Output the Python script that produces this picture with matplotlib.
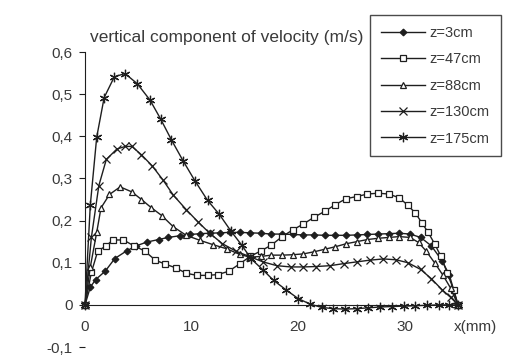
import matplotlib

matplotlib.use("Agg")

import matplotlib.pyplot as plt
from matplotlib.ticker import FuncFormatter


# values (x in mm, velocity in m/s)
x_z3 = [0, 0.5, 1.0, 1.9, 2.8, 3.9, 4.8, 5.8, 6.9, 7.8, 8.9, 9.9, 10.8, 11.7, 12.7,
        13.6, 14.5, 15.5, 16.5, 17.5, 18.5, 19.5, 20.5, 21.5, 22.5, 23.5, 24.5,
        25.5, 26.5, 27.5, 28.5, 29.5, 30.5, 31.5, 32.5, 33.5, 34.2, 35]
v_z3 = [0, 0.042, 0.06, 0.08, 0.11, 0.128, 0.14, 0.149, 0.155, 0.16, 0.164, 0.167,
        0.169, 0.17, 0.171, 0.172, 0.172, 0.171, 0.17, 0.168, 0.168, 0.167, 0.166,
        0.166, 0.165, 0.165, 0.165, 0.166, 0.167, 0.168, 0.169, 0.17, 0.168, 0.16,
        0.14, 0.105, 0.07, 0]

x_z47 = [0, 0.6, 1.2, 2.0, 2.6, 3.6, 4.6, 5.6, 6.6, 7.5, 8.5, 9.5, 10.5, 11.5, 12.5,
         13.5, 14.5, 15.5, 16.5, 17.5, 18.5, 19.5, 20.5, 21.5, 22.5, 23.5, 24.5,
         25.5, 26.5, 27.5, 28.5, 29.5, 30.3, 31.0, 31.6, 32.2, 32.8, 33.4, 34.0,
         34.6, 35]
v_z47 = [0, 0.077, 0.128, 0.14, 0.154, 0.154, 0.14, 0.128, 0.106, 0.097, 0.088, 0.075,
         0.07, 0.07, 0.072, 0.08, 0.097, 0.115, 0.128, 0.142, 0.162, 0.178, 0.192,
         0.208, 0.222, 0.238, 0.252, 0.257, 0.263, 0.265, 0.263, 0.254, 0.236,
         0.218, 0.195, 0.172, 0.145, 0.115, 0.075, 0.035, 0]

x_z88 = [0, 0.5, 1.1, 1.5, 2.3, 3.3, 4.4, 5.3, 6.2, 7.2, 8.3, 9.5, 10.8, 12.0, 13.3,
         14.5, 15.5, 16.5, 17.5, 18.5, 19.5, 20.5, 21.5, 22.5, 23.5, 24.5, 25.5,
         26.5, 27.5, 28.5, 29.5, 30.5, 31.3, 32.0, 32.8, 33.6, 34.3, 35]
v_z88 = [0, 0.09, 0.172, 0.23, 0.262, 0.28, 0.268, 0.25, 0.231, 0.212, 0.185, 0.165,
         0.153, 0.143, 0.133, 0.12, 0.113, 0.115, 0.118, 0.118, 0.119, 0.121, 0.126,
         0.132, 0.138, 0.145, 0.15, 0.155, 0.158, 0.16, 0.162, 0.16, 0.148, 0.128,
         0.1, 0.07, 0.04, 0]

x_z130 = [0, 0.6, 1.3, 2.0, 3.0, 3.8, 4.4, 5.3, 6.3, 7.3, 8.3, 9.5, 10.6, 11.7, 12.9,
          14.2, 15.5, 16.7, 18.0, 19.3, 20.5, 21.7, 23.0, 24.3, 25.5, 26.7, 28.0,
          29.2, 30.3, 31.5, 32.5, 33.5, 34.3, 35]
v_z130 = [0, 0.16, 0.283, 0.345, 0.37, 0.376, 0.376, 0.356, 0.33, 0.297, 0.26, 0.226,
          0.197, 0.17, 0.145, 0.127, 0.114, 0.102, 0.093, 0.09, 0.09, 0.091, 0.093,
          0.098, 0.102, 0.106, 0.109, 0.107, 0.1, 0.084, 0.062, 0.036, 0.018, 0]

x_z175 = [0, 0.5, 1.1, 1.8, 2.75, 3.75, 4.9, 6.1, 7.1, 8.1, 9.2, 10.3, 11.5, 12.6,
          13.7, 14.7, 15.6, 16.7, 17.7, 18.9, 20.0, 21.1, 22.2, 23.3, 24.4, 25.5,
          26.6, 27.7, 28.8, 29.9, 31.0, 32.1, 33.2, 34.2, 35]
v_z175 = [0, 0.237, 0.398, 0.492, 0.541, 0.549, 0.525, 0.486, 0.441, 0.392, 0.342,
          0.295, 0.248, 0.215, 0.175, 0.142, 0.109, 0.083, 0.058, 0.035, 0.015, 0.002,
          -0.006, -0.009, -0.01, -0.009, -0.007, -0.005, -0.004, -0.003, -0.002,
          -0.001, 0.0, 0.0, 0]

labels = ["z=3cm", "z=47cm", "z=88cm", "z=130cm", "z=175cm"]
y_ticks = [-0.1, 0, 0.1, 0.2, 0.3, 0.4, 0.5, 0.6]
x_ticks = [0, 10, 20, 30]

INK = "#1e1e1e"
TEXT = "#3a3a3a"

plt.rcParams["font.family"] = ["Liberation Sans", "DejaVu Sans"]


def comma_label(value, _pos):
    if abs(value) < 1e-9:
        return "0"
    return f"{value:.1f}".replace(".", ",")


fig = plt.figure(figsize=(5.16, 3.58), dpi=100)
ax = fig.add_axes([0.1647, 0.0307, 0.7229, 0.824])

series = [
    (x_z3, v_z3, dict(marker="D", markersize=3.4, markerfacecolor=INK)),
    (x_z47, v_z47, dict(marker="s", markersize=4.4, markerfacecolor="white")),
    (x_z88, v_z88, dict(marker="^", markersize=4.8, markerfacecolor="white")),
    (x_z130, v_z130, dict(marker="x", markersize=5.4)),
    (x_z175, v_z175, dict(marker=(6, 2, 0), markersize=6.8)),
]
for (xs, vs, style), label in zip(series, labels):
    ax.plot(xs, vs, color=INK, linewidth=1.0, markeredgecolor=INK,
            markeredgewidth=0.9, clip_on=False, label=label, **style)

ax.set_xlim(0, 35)
ax.set_ylim(-0.1, 0.6)

for side in ("top", "right"):
    ax.spines[side].set_visible(False)
ax.spines["bottom"].set_position(("data", 0))
ax.spines["bottom"].set_color(INK)
ax.spines["left"].set_color(INK)
ax.spines["left"].set_bounds(0, 0.6)

ax.set_xticks(x_ticks)
ax.set_yticks(y_ticks)
ax.yaxis.set_major_formatter(FuncFormatter(comma_label))
ax.tick_params(axis="x", length=0, pad=11, labelsize=11, labelcolor=TEXT)
ax.tick_params(axis="y", direction="out", length=4, width=0.8, pad=5,
               labelsize=11, labelcolor=TEXT, color=INK)

ax.text(36.6, -0.052, "x(mm)", ha="center", va="center", fontsize=11,
        color=TEXT, clip_on=False)
fig.text(90 / 516, 0.894, "vertical component of velocity (m/s)", ha="left",
         va="center", fontsize=12.5, color=TEXT)

legend = ax.legend(loc="upper left", bbox_to_anchor=(370 / 516, 1 - 15 / 358),
                   bbox_transform=fig.transFigure, numpoints=1, fontsize=10.5,
                   frameon=True, fancybox=False, borderpad=0.75, labelspacing=0.85,
                   handlelength=3.0, handletextpad=0.35, borderaxespad=0)
legend.get_frame().set_edgecolor(INK)
legend.get_frame().set_linewidth(1.0)
for text in legend.get_texts():
    text.set_color(TEXT)

fig.savefig("out.png", dpi=100)
